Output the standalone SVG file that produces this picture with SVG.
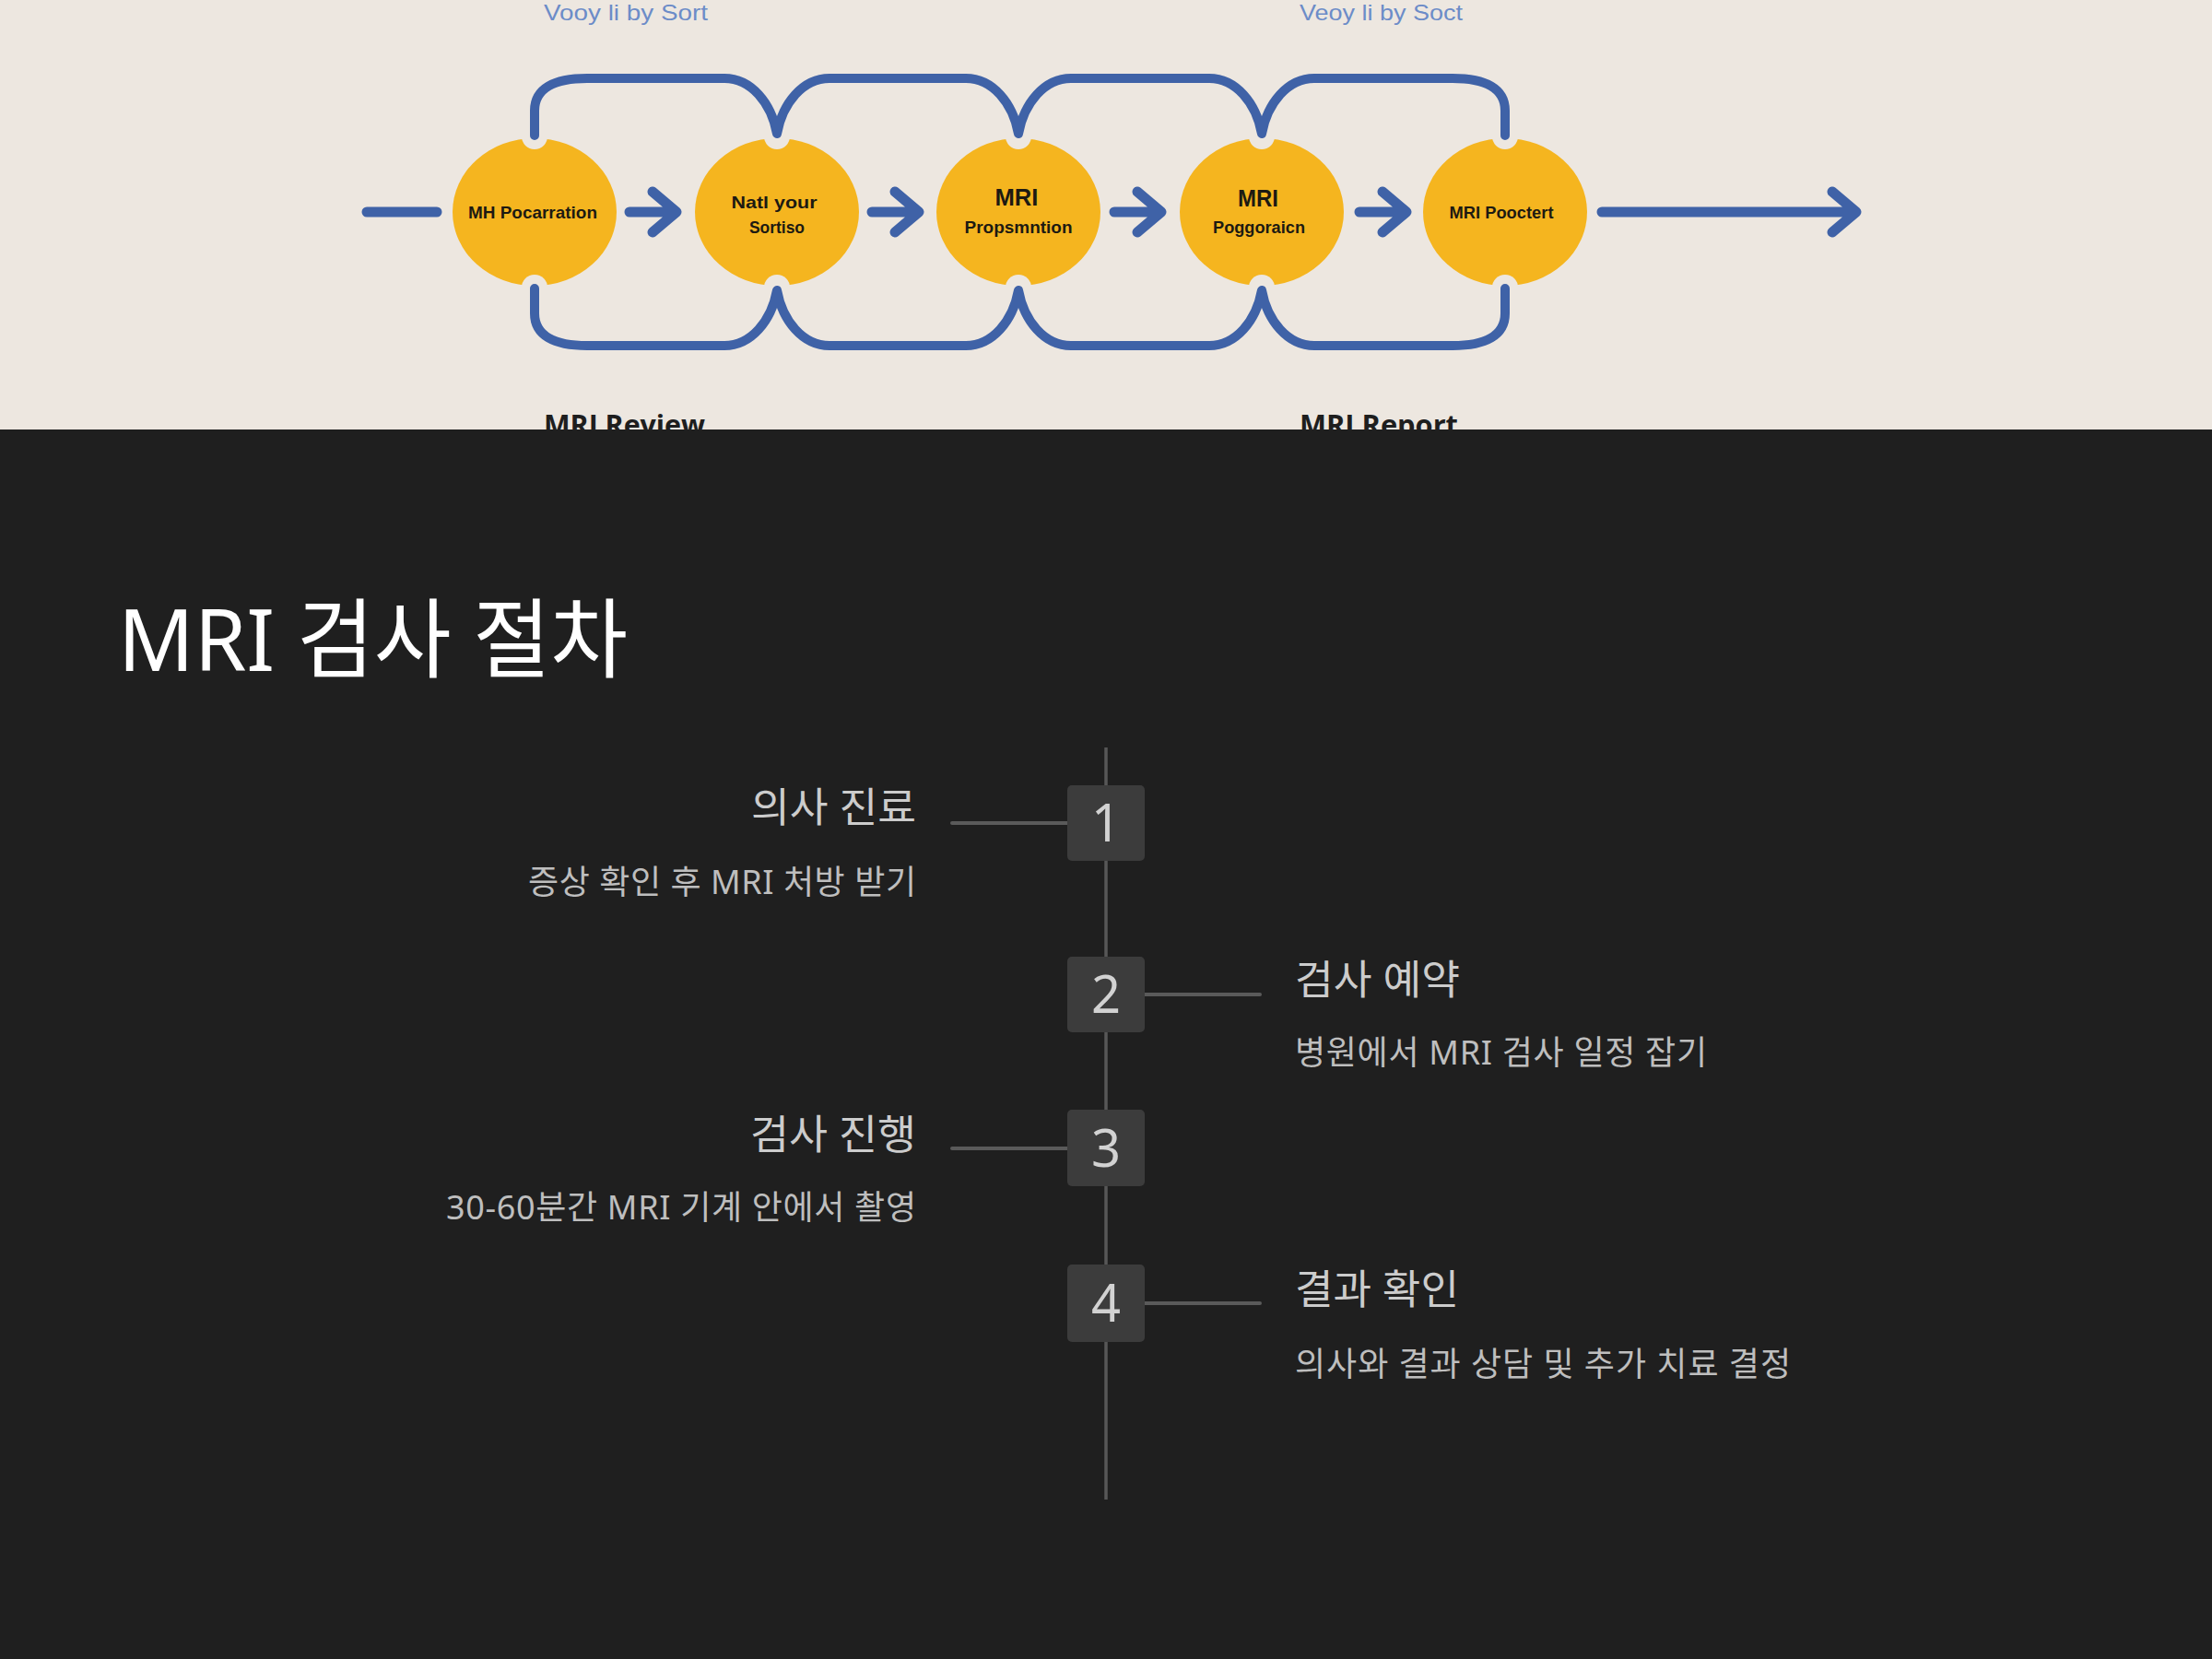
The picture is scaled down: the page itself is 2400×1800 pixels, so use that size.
<svg xmlns="http://www.w3.org/2000/svg" xmlns:xlink="http://www.w3.org/1999/xlink" width="2400" height="1800" viewBox="0 0 2400 1800">
  <defs>
    <style>
      .bg-top { fill: #EDE7E0; }
      .bg-dark { fill: #1F1F1F; }
      .blob { fill: #F5B51F; }
      .notch { fill: #EDE7E0; }
      .blue { fill: none; stroke: #3F62A7; stroke-width: 10; stroke-linecap: round; stroke-linejoin: round; }
      .arrow { fill: none; stroke: #3F62A7; stroke-width: 11; stroke-linecap: round; stroke-linejoin: round; }
      .blabel { font-family: "Liberation Sans", Arial, sans-serif; font-weight: bold; fill: #1D1A12; text-anchor: middle; }
      .faint { font-family: "Liberation Sans", Arial, sans-serif; font-size: 24px; fill: #6C8CC8; }
      .caption { font-family: "Open Sans", "Liberation Sans", sans-serif; font-size: 30px; font-weight: bold; fill: #1E1E1E; }
      .title { font-family: "Noto Sans", "Noto Sans CJK KR", sans-serif; font-size: 94px; fill: #FFFFFF; }
      .step { font-family: "Noto Sans", "Noto Sans CJK KR", sans-serif; font-size: 44px; fill: #CCCCCC; }
      .sub { font-family: "Noto Sans", "Noto Sans CJK KR", sans-serif; font-size: 36px; fill: #BEBEBE; }
      .end { text-anchor: end; }
      .box { fill: #3C3C3C; }
      .num { font-family: "Noto Sans", "Liberation Sans", sans-serif; font-size: 56px; fill: #D2D2D2; text-anchor: middle; }
      .tl { stroke: #575757; stroke-width: 3.5; fill: none; }
      .conn { stroke: #5A5A5A; stroke-width: 4; stroke-linecap: round; fill: none; }
    </style>
    <clipPath id="topClip">
      <rect x="0" y="0" width="2400" height="466"/>
    </clipPath>
    <path id="chev" d="M-27,0 L20,0 M-2,-22 L24,0 L-2,22"/>
  </defs>

  <rect class="bg-dark" x="0" y="0" width="2400" height="1800"/>

  <!-- Top illustration -->
  <g id="illustration" clip-path="url(#topClip)">
    <rect class="bg-top" x="0" y="0" width="2400" height="466"/>
    <text class="faint" x="590" y="22" textLength="178" lengthAdjust="spacingAndGlyphs">Vooy li by Sort</text>
    <text class="faint" x="1410" y="22" textLength="177" lengthAdjust="spacingAndGlyphs">Veoy li by Soct</text>
    <text class="caption" x="590" y="472" textLength="175" lengthAdjust="spacingAndGlyphs">MRI Review</text>
    <text class="caption" x="1410" y="472" textLength="172" lengthAdjust="spacingAndGlyphs">MRI Report</text>

    <g id="circle1">
      <ellipse class="blob" cx="580" cy="230" rx="89" ry="80"/>
      <circle class="notch" cx="580" cy="148" r="14"/>
      <circle class="notch" cx="580" cy="312" r="14"/>
      <text class="blabel" x="578" y="237" font-size="19" textLength="140" lengthAdjust="spacingAndGlyphs">MH Pocarration</text>
    </g>
    <g id="circle2">
      <ellipse class="blob" cx="843" cy="230" rx="89" ry="80"/>
      <circle class="notch" cx="843" cy="148" r="14"/>
      <circle class="notch" cx="843" cy="312" r="14"/>
      <text class="blabel" x="840" y="226" font-size="19" textLength="93" lengthAdjust="spacingAndGlyphs">Natl your</text>
      <text class="blabel" x="843" y="253" font-size="19" textLength="60" lengthAdjust="spacingAndGlyphs">Sortiso</text>
    </g>
    <g id="circle3">
      <ellipse class="blob" cx="1105" cy="230" rx="89" ry="80"/>
      <circle class="notch" cx="1105" cy="148" r="14"/>
      <circle class="notch" cx="1105" cy="312" r="14"/>
      <text class="blabel" x="1103" y="223" font-size="25" textLength="47" lengthAdjust="spacingAndGlyphs">MRI</text>
      <text class="blabel" x="1105" y="253" font-size="19" textLength="117" lengthAdjust="spacingAndGlyphs">Propsmntion</text>
    </g>
    <g id="circle4">
      <ellipse class="blob" cx="1369" cy="230" rx="89" ry="80"/>
      <circle class="notch" cx="1369" cy="148" r="14"/>
      <circle class="notch" cx="1369" cy="312" r="14"/>
      <text class="blabel" x="1365" y="224" font-size="25" textLength="44" lengthAdjust="spacingAndGlyphs">MRI</text>
      <text class="blabel" x="1366" y="253" font-size="18" textLength="100" lengthAdjust="spacingAndGlyphs">Poggoraicn</text>
    </g>
    <g id="circle5">
      <ellipse class="blob" cx="1633" cy="230" rx="89" ry="80"/>
      <circle class="notch" cx="1633" cy="148" r="14"/>
      <circle class="notch" cx="1633" cy="312" r="14"/>
      <text class="blabel" x="1629" y="237" font-size="19" textLength="113" lengthAdjust="spacingAndGlyphs">MRI Pooctert</text>
    </g>

    <g id="illustration-connectors">
      <path id="topArches" class="blue" d="M580,147 L580,120 C580,96 601,85 637,85 L786,85 C815,85 837,112 843,145 C849,112 871,85 900,85 L1048,85 C1077,85 1099,112 1105,145 C1111,112 1133,85 1162,85 L1312,85 C1341,85 1363,112 1369,145 C1375,112 1397,85 1426,85 L1576,85 C1612,85 1633,96 1633,120 L1633,147"/>
      <use xlink:href="#topArches" href="#topArches" transform="translate(0,460) scale(1,-1)"/>
      <path class="arrow" d="M398,230 L474,230"/>
      <use class="arrow" xlink:href="#chev" href="#chev" transform="translate(710,230)"/>
      <use class="arrow" xlink:href="#chev" href="#chev" transform="translate(973,230)"/>
      <use class="arrow" xlink:href="#chev" href="#chev" transform="translate(1236,230)"/>
      <use class="arrow" xlink:href="#chev" href="#chev" transform="translate(1502,230)"/>
      <path class="arrow" d="M1738,230 L2010,230 M1988,208 L2014,230 L1988,252"/>
    </g>
  </g>

  <!-- Title -->
  <text id="title" class="title" x="128" y="728" textLength="553" lengthAdjust="spacingAndGlyphs">MRI 검사 절차</text>

  <!-- Timeline connectors -->
  <g id="connectors">
    <line class="tl" x1="1200" y1="811" x2="1200" y2="1627"/>
    <line class="conn" x1="1033" y1="893" x2="1158" y2="893"/>
    <line class="conn" x1="1242" y1="1079" x2="1367" y2="1079"/>
    <line class="conn" x1="1033" y1="1246" x2="1158" y2="1246"/>
    <line class="conn" x1="1242" y1="1414" x2="1367" y2="1414"/>
  </g>

  <g id="step1">
    <rect class="box" x="1158" y="852" width="84" height="82" rx="5"/>
    <text class="num" x="1200" y="913">1</text>
    <text class="step end" x="994" y="892" textLength="179" lengthAdjust="spacingAndGlyphs">의사 진료</text>
    <text class="sub end" x="994" y="970" textLength="421" lengthAdjust="spacing">증상 확인 후 MRI 처방 받기</text>
  </g>
  <g id="step2">
    <rect class="box" x="1158" y="1038" width="84" height="82" rx="5"/>
    <text class="num" x="1200" y="1099">2</text>
    <text class="step" x="1405" y="1079" textLength="179" lengthAdjust="spacingAndGlyphs">검사 예약</text>
    <text class="sub" x="1405" y="1155" textLength="447" lengthAdjust="spacing">병원에서 MRI 검사 일정 잡기</text>
  </g>
  <g id="step3">
    <rect class="box" x="1158" y="1204" width="84" height="83" rx="5"/>
    <text class="num" x="1200" y="1266">3</text>
    <text class="step end" x="994" y="1247" textLength="180" lengthAdjust="spacingAndGlyphs">검사 진행</text>
    <text class="sub end" x="994" y="1323" textLength="510" lengthAdjust="spacing">30-60분간 MRI 기계 안에서 촬영</text>
  </g>
  <g id="step4">
    <rect class="box" x="1158" y="1372" width="84" height="84" rx="5"/>
    <text class="num" x="1200" y="1434">4</text>
    <text class="step" x="1405" y="1415" textLength="178" lengthAdjust="spacingAndGlyphs">결과 확인</text>
    <text class="sub" x="1405" y="1493" textLength="538" lengthAdjust="spacing">의사와 결과 상담 및 추가 치료 결정</text>
  </g>
</svg>
